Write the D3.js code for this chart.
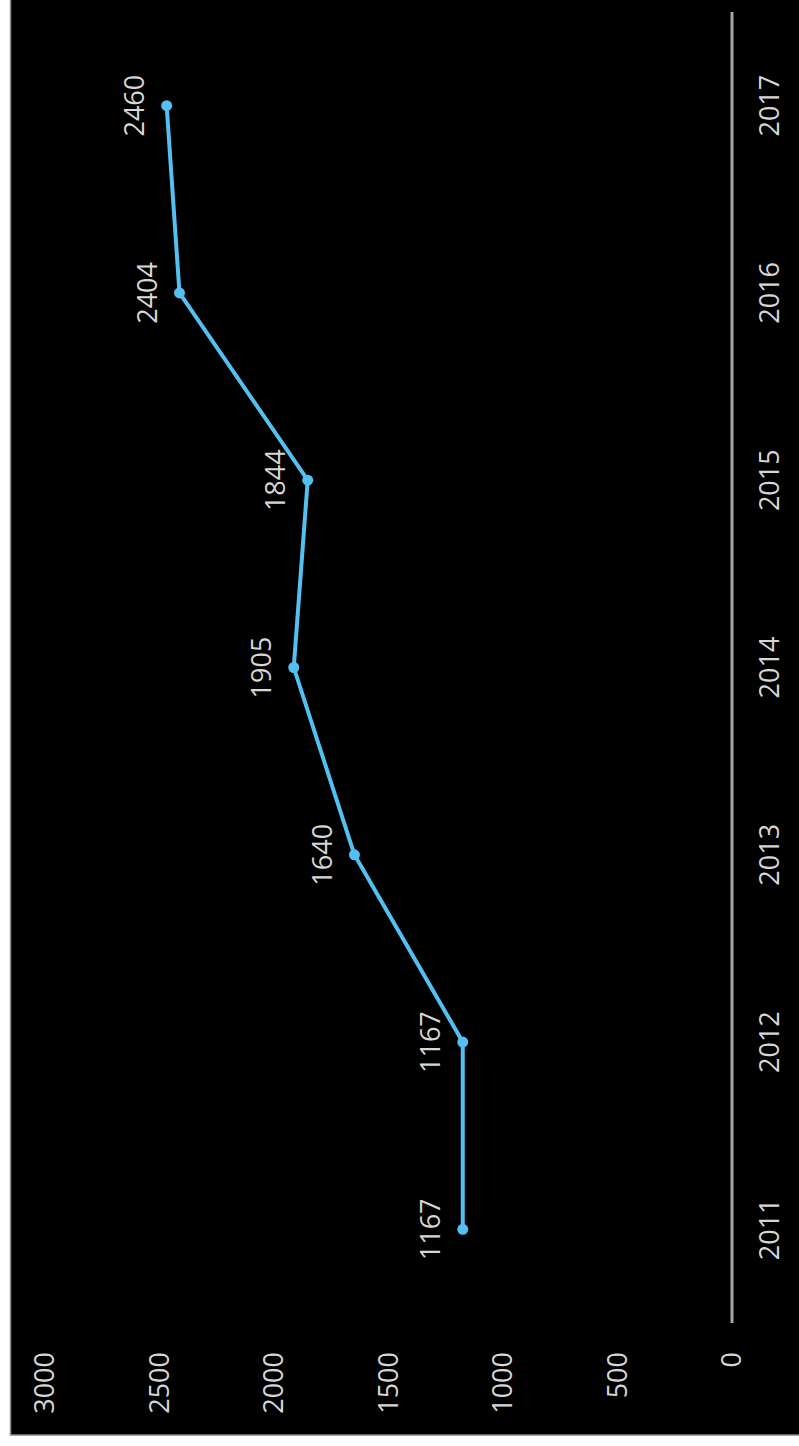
<!DOCTYPE html>
<html>
<head>
<meta charset="utf-8">
<script src="https://cdn.jsdelivr.net/npm/d3@7/dist/d3.min.js"></script>
<style>
  html, body { margin: 0; padding: 0; background: #ffffff; }
  svg { display: block; }
  text { font-family: "Open Sans", "DejaVu Sans", sans-serif; fill: #d6d6d6; }
</style>
</head>
<body>
<svg id="chart" width="799" height="1446"></svg>
<script>
// Yearly totals, 2011–2017
const years = ["2011", "2012", "2013", "2014", "2015", "2016", "2017"];
const values = [1167, 1167, 1640, 1905, 1844, 2404, 2460];
const valueTicks = [0, 500, 1000, 1500, 2000, 2500, 3000];

const data = years.map((y, i) => ({ year: y, value: values[i] }));

const svg = d3.select("#chart");

// Dark panel
svg.append("rect")
  .attr("x", 10.5).attr("y", -2)
  .attr("width", 792).attr("height", 1437)
  .attr("fill", "#000")
  .attr("stroke", "#8a8a8a")
  .attr("stroke-width", 1.5);

// The chart is laid on its side: values run right-to-left, years bottom-to-top
const v = d3.scaleLinear().domain([0, 3000]).range([730, 43]);
const yr = d3.scaleBand().domain(years).range([1323, 12]);
const yc = d => yr(d) + yr.bandwidth() / 2;

const fs = 27;

// Category axis line with year labels
const catAxis = d3.axisRight(yr).tickSize(0).tickPadding(0);
const cg = svg.append("g").attr("transform", "translate(732,0)").call(catAxis);
cg.attr("font-family", null).attr("font-size", null);
cg.select(".domain").attr("stroke", "#a6a6a6").attr("stroke-width", 3)
  .attr("d", `M0,${yr.range()[1]}V${yr.range()[0]}`);
cg.selectAll(".tick text")
  .attr("x", 0).attr("y", 0).attr("dy", null)
  .attr("transform", "translate(36,0) rotate(-90)")
  .attr("text-anchor", "middle")
  .attr("dominant-baseline", "central")
  .style("font-size", fs + "px")
  .attr("fill", "#d6d6d6");

// Value tick labels
const valAxis = d3.axisBottom(v).tickValues(valueTicks)
  .tickFormat(d3.format("d")).tickSize(0).tickPadding(0);
const vg = svg.append("g").attr("transform", "translate(0,1352)").call(valAxis);
vg.select(".domain").remove();
vg.attr("font-family", null).attr("font-size", null);
vg.selectAll(".tick text")
  .attr("x", 0).attr("y", 0).attr("dy", null)
  .attr("transform", "rotate(-90)")
  .attr("text-anchor", "end")
  .attr("dominant-baseline", "central")
  .style("font-size", fs + "px")
  .attr("fill", "#d6d6d6");

// Series line
const line = d3.line()
  .x(d => v(d.value))
  .y(d => yc(d.year));

const blue = "#52c0f0";

svg.append("path")
  .datum(data)
  .attr("d", line)
  .attr("fill", "none")
  .attr("stroke", blue)
  .attr("stroke-width", 4)
  .attr("stroke-linejoin", "round");

svg.selectAll("circle.pt")
  .data(data)
  .join("circle")
  .attr("class", "pt")
  .attr("cx", d => v(d.value))
  .attr("cy", d => yc(d.year))
  .attr("r", 5.5)
  .attr("fill", blue);

// Value labels
svg.selectAll("text.lbl")
  .data(data)
  .join("text")
  .attr("class", "lbl")
  .attr("transform", d => `translate(${v(d.value) - 33},${yc(d.year)}) rotate(-90)`)
  .attr("text-anchor", "middle")
  .attr("dominant-baseline", "central")
  .style("font-size", fs + "px")
  .text(d => d.value);
</script>
</body>
</html>
